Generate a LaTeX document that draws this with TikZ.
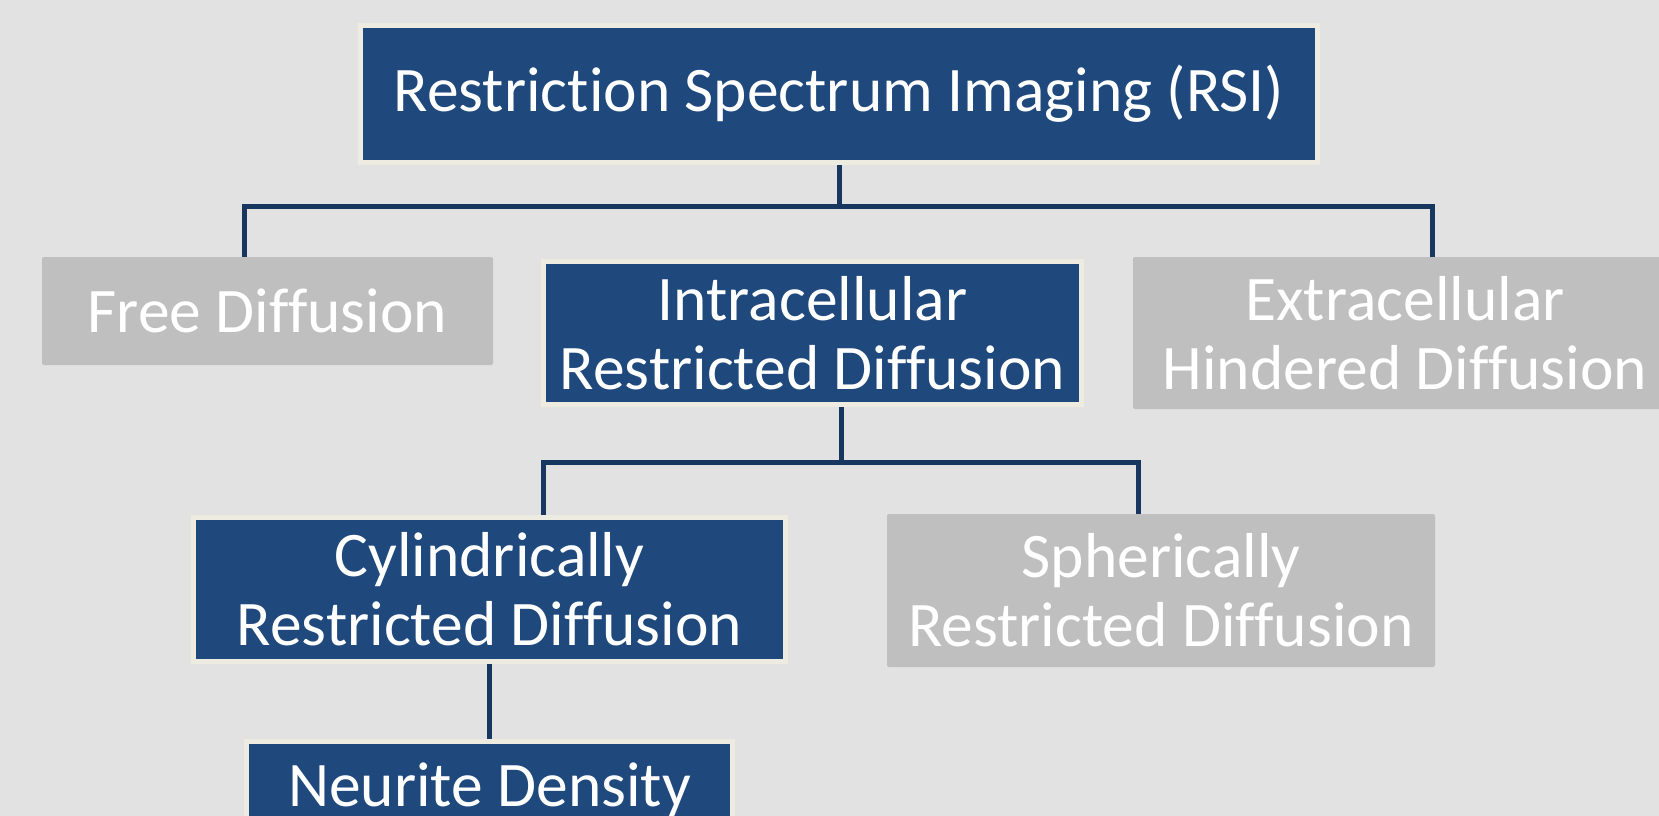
\documentclass[tikz,border=0pt]{standalone}
\usepackage{fontspec}
\setmainfont{Carlito}[Ligatures=NoCommon]
\definecolor{bg}{HTML}{E2E2E2}
\definecolor{boxblue}{HTML}{1F497D}
\definecolor{cream}{HTML}{EEECE1}
\definecolor{boxgray}{HTML}{BFBFBF}
\definecolor{linecol}{HTML}{17375E}
\begin{document}
\begin{tikzpicture}[x=1pt,y=-1pt,
  bluebox/.style={draw=cream, line width=4.5pt, fill=boxblue, text=white, align=center,
    inner sep=0pt, font=\fontsize{63.5}{69}\selectfont},
  graybox/.style={draw=none, fill=boxgray, rounded corners=2pt, text=white, align=center,
    inner sep=0pt, font=\fontsize{63.5}{69}\selectfont},
  conn/.style={draw=linecol, line width=5pt}]
\path[use as bounding box, fill=bg] (0,0) rectangle (1659,816);
\clip (0,0) rectangle (1659,816);
\node[bluebox, minimum width=957pt, minimum height=137pt] (top) at (839,94) {Restriction Spectrum Imaging (RSI)};
\node[graybox, minimum width=451pt, minimum height=108pt] (free) at (267.5,311) {Free Diffusion};
\node[bluebox, minimum width=538pt, minimum height=143pt] (intra) at (812.5,333) {Intracellular\\Restricted Diffusion};
\node[graybox, minimum width=544pt, minimum height=152pt] (extra) at (1405,333) {Extracellular\\Hindered Diffusion};
\node[bluebox, minimum width=592pt, minimum height=144pt] (cyl) at (489.5,589.5) {Cylindrically\\Restricted Diffusion};
\node[graybox, minimum width=548pt, minimum height=153pt] (sph) at (1161,590.5) {Spherically\\Restricted Diffusion};
\node[bluebox, minimum width=486pt, minimum height=97pt] (neu) at (489.5,790) {Neurite Density};
\coordinate (fL) at (244,206);
\coordinate (fR) at (1432,206);
\coordinate (gL) at (543,462);
\coordinate (gR) at (1138,462);
\coordinate (gM) at (841,462);
\draw[conn] (top.south) -- (top.south |- fL);
\draw[conn] (free.north -| fL) -- (fL) -- (fR) -- (extra.north -| fR);
\draw[conn] (intra.south -| gM) -- (gM);
\draw[conn] (cyl.north -| gL) -- (gL) -- (gR) -- (sph.north -| gR);
\draw[conn] (cyl.south) -- (neu.north);
\end{tikzpicture}
\end{document}
